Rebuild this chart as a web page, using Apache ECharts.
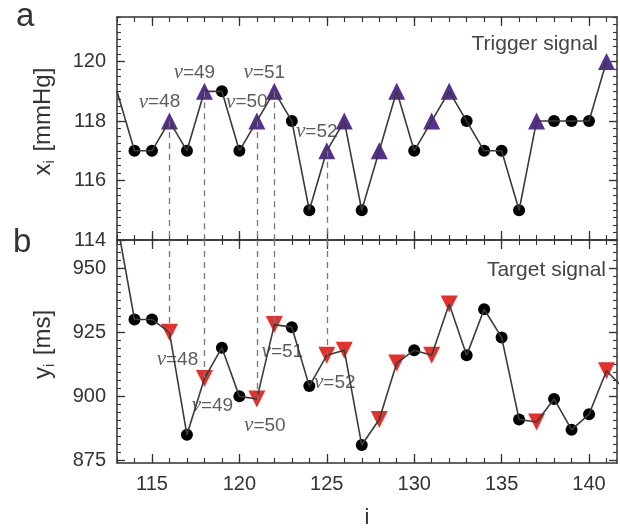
<!DOCTYPE html>
<html>
<head>
<meta charset="utf-8">
<script src="https://cdn.jsdelivr.net/npm/echarts@6/dist/echarts.min.js"></script>
<style>
html,body{margin:0;padding:0;background:#fff;}
#chart{width:620px;height:530px;}
</style>
</head>
<body>
<div id="chart"></div>
<script>
// ---- data ----
const iTop = [113,114,115,116,117,118,119,120,121,122,123,124,125,126,127,128,129,130,131,132,133,134,135,136,137,138,139,140,141];
const xSignal = [119,117,117,118,117,119,119,117,118,119,118,115,117,118,115,117,119,117,118,119,118,117,117,115,118,118,118,118,120];
const iBottom = [113,114,115,116,117,118,119,120,121,122,123,124,125,126,127,128,129,130,131,132,133,134,135,136,137,138,139,140,141,142];
const ySignal = [968,930,930,925,885,907,919,900,899,928,927,904,916,918,881,891,913,918,916,936,916,934,923,891,890,899,887,893,910,903];
const triggerI = [116,118,121,122,125,126,128,129,131,132,137,141];
const nuI = [116,118,121,122,125];
const nuText = ['48','49','50','51','52'];
const xMajor = [115,120,125,130,135,140];
const yTopMajor = [114,116,118,120];
const yBotMajor = [875,900,925,950];

// ---- helpers ----
const X_MIN = 113, X_MAX = 141.6;
const TOP_MIN = 114, TOP_MAX = 121.5;
const BOT_MIN = 874, BOT_MAX = 961;
const xMinor = []; for (let v = 113; v <= 141; v++) xMinor.push(v);
const yTopMinor = []; for (let v = 114; v <= 121.5; v += 0.25) yTopMinor.push(v);
const yBotMinor = []; for (let v = 875; v <= 961; v += 3.125) yBotMinor.push(v);

const AX = '#333';
const C_LINE = '#3a3a3a';
const C_PURPLE = '#55308f';
const C_RED = '#e5312c';
const FONT = 'Liberation Sans, Arial, sans-serif';

function pairs(is, vs) { return is.map((i, k) => [i, vs[k]]); }
function valAt(is, vs, i) { return vs[is.indexOf(i)]; }

function xAxes(grid, withLabels) {
  const base = {gridIndex: grid, type: 'value', min: X_MIN, max: X_MAX, splitLine: {show: false}};
  const list = [];
  ['bottom', 'top'].forEach(pos => {
    list.push(Object.assign({}, base, {
      position: pos,
      axisLine: {show: true, onZero: false, lineStyle: {color: AX, width: 1.5}},
      axisTick: {show: true, inside: true, length: 9, customValues: xMajor, lineStyle: {color: AX, width: 1.3}},
      axisLabel: {show: withLabels && pos === 'bottom', customValues: xMajor, margin: 11,
        fontSize: 20, color: '#333', fontFamily: FONT},
      name: (withLabels && pos === 'bottom') ? 'i' : '',
      nameLocation: 'middle', nameGap: 44,
      nameTextStyle: {fontSize: 22, color: '#333', fontFamily: FONT}
    }));
    list.push(Object.assign({}, base, {
      position: pos,
      axisLine: {show: false, onZero: false},
      axisTick: {show: true, inside: true, length: 5, customValues: xMinor, lineStyle: {color: AX, width: 1.1}},
      axisLabel: {show: false, customValues: xMinor}
    }));
  });
  return list;
}

function yAxes(grid, min, max, major, minor, name) {
  const base = {gridIndex: grid, type: 'value', min: min, max: max, splitLine: {show: false}};
  const list = [];
  ['left', 'right'].forEach(pos => {
    list.push(Object.assign({}, base, {
      position: pos,
      axisLine: {show: true, onZero: false, lineStyle: {color: AX, width: 1.5}},
      axisTick: {show: true, inside: true, length: 8, customValues: major, lineStyle: {color: AX, width: 1.3}},
      axisLabel: {show: pos === 'left', customValues: major, margin: 11,
        fontSize: 20, color: '#333', fontFamily: FONT},
      name: pos === 'left' ? name : '',
      nameLocation: 'middle', nameGap: 60, nameRotate: 90,
      nameTextStyle: {fontSize: 24, color: '#333', fontFamily: FONT, padding: [0, 0, 0, 14],
        rich: {
          a: {fontSize: 24, color: '#333', fontFamily: FONT},
          s: {fontSize: 14, color: '#333', fontFamily: FONT, padding: [14, 2, 0, 0]}
        }}
    }));
    list.push(Object.assign({}, base, {
      position: pos,
      axisLine: {show: false, onZero: false},
      axisTick: {show: true, inside: true, length: 4, customValues: minor, lineStyle: {color: AX, width: 1.1}},
      axisLabel: {show: false, customValues: minor}
    }));
  });
  return list;
}

// marker data
function dotData(is, vs) {
  const out = [];
  is.forEach((i, k) => {
    if (i >= 114 && i <= 141 && triggerI.indexOf(i) < 0) out.push([i, vs[k]]);
  });
  return out;
}
function trigData(is, vs) { return triggerI.map(i => [i, valAt(is, vs, i)]); }

const nuRich = {
  n: {fontFamily: 'Liberation Serif, Times New Roman, serif', fontStyle: 'italic', fontSize: 21, color: '#333'},
  t: {fontFamily: FONT, fontSize: 19, color: '#333'}
};

function nuLabelData(is, vs, offset) {
  return nuI.map((i, k) => ({
    value: [i, valAt(is, vs, i)],
    label: {show: true, formatter: '{n|ν}{t|=' + nuText[k] + '}', rich: nuRich, offset: offset, position: 'inside'}
  }));
}

const topDash = nuI.map(i => [{coord: [i, valAt(iTop, xSignal, i)]}, {coord: [i, TOP_MIN]}]);
const botDash = nuI.map(i => [{coord: [i, BOT_MAX]}, {coord: [i, valAt(iBottom, ySignal, i)]}]);

const option = {
  animation: false,
  backgroundColor: '#fff',
  grid: [
    {left: 117, right: 3, top: 17, height: 223},
    {left: 117, right: 3, top: 240, height: 225}
  ],
  xAxis: xAxes(0, false).concat(xAxes(1, true)),
  yAxis: yAxes(0, TOP_MIN, TOP_MAX, yTopMajor, yTopMinor, '{a|x}{s|i}{a| [mmHg]}')
    .concat(yAxes(1, BOT_MIN, BOT_MAX, yBotMajor, yBotMinor, '{a|y}{s|i}{a| [ms]}')),
  graphic: [
    {type: 'text', left: 16, top: 0, style: {text: 'a', fontSize: 33, fill: '#333', fontFamily: FONT}},
    {type: 'text', left: 13, top: 226, style: {text: 'b', fontSize: 33, fill: '#333', fontFamily: FONT}},
    {type: 'text', right: 22, top: 34, style: {text: 'Trigger signal', fontSize: 21, fill: '#444', fontFamily: FONT}},
    {type: 'text', right: 14, top: 260, style: {text: 'Target signal', fontSize: 21, fill: '#444', fontFamily: FONT}}
  ],
  series: [
    {
      type: 'line', xAxisIndex: 0, yAxisIndex: 0, data: pairs(iTop, xSignal),
      showSymbol: false, symbol: 'none', clip: true,
      lineStyle: {color: C_LINE, width: 1.6},
      markLine: {silent: true, symbol: 'none', label: {show: false},
        lineStyle: {color: '#777', type: [6, 5], width: 1.3}, data: topDash}
    },
    {type: 'scatter', xAxisIndex: 0, yAxisIndex: 0, data: dotData(iTop, xSignal),
      symbol: 'circle', symbolSize: 12, itemStyle: {color: '#000', opacity: 1}},
    {type: 'scatter', xAxisIndex: 0, yAxisIndex: 0, data: trigData(iTop, xSignal),
      symbol: 'triangle', symbolSize: 17, itemStyle: {color: C_PURPLE, opacity: 1}},
    {type: 'scatter', xAxisIndex: 0, yAxisIndex: 0, data: nuLabelData(iTop, xSignal, [-10, -19]),
      symbolSize: 0, z: 5},
    {
      type: 'line', xAxisIndex: 4, yAxisIndex: 4, data: pairs(iBottom, ySignal),
      showSymbol: false, symbol: 'none', clip: true,
      lineStyle: {color: C_LINE, width: 1.6},
      markLine: {silent: true, symbol: 'none', label: {show: false},
        lineStyle: {color: '#777', type: [6, 5], width: 1.3}, data: botDash}
    },
    {type: 'scatter', xAxisIndex: 4, yAxisIndex: 4, data: dotData(iBottom, ySignal),
      symbol: 'circle', symbolSize: 12, itemStyle: {color: '#000', opacity: 1}},
    {type: 'scatter', xAxisIndex: 4, yAxisIndex: 4, data: trigData(iBottom, ySignal),
      symbol: 'triangle', symbolRotate: 180, symbolSize: 17, itemStyle: {color: C_RED, opacity: 1}},
    {type: 'scatter', xAxisIndex: 4, yAxisIndex: 4, data: nuLabelData(iBottom, ySignal, [8, 27]),
      symbolSize: 0, z: 5}
  ]
};

const chart = echarts.init(document.getElementById('chart'), null, {renderer: 'canvas'});
chart.setOption(option);
</script>
</body>
</html>
